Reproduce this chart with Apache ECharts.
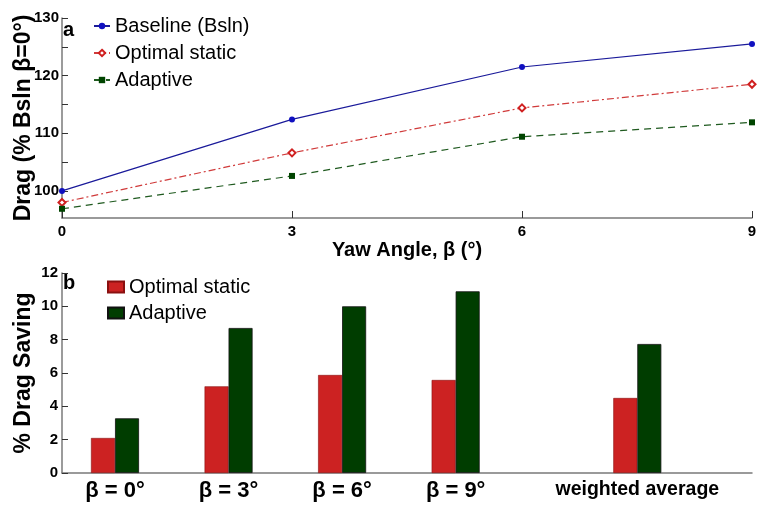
<!DOCTYPE html>
<html><head><meta charset="utf-8">
<script src="https://cdn.jsdelivr.net/npm/echarts@6/dist/echarts.min.js"></script>
<style>html,body{margin:0;padding:0;background:#fff}#c{width:770px;height:505px}</style>
</head><body><div id="c"></div>
<script>
// Panel a: drag vs yaw angle
const yawAngles = [0, 3, 6, 9];
const baseline = [100.0, 112.4, 121.5, 125.5];
const optimalStatic = [98.0, 106.6, 114.4, 118.5];
const adaptive = [96.9, 102.6, 109.4, 111.9];
const yTicksA = [100, 105, 110, 115, 120, 125, 130];
const yLabelsA = [100, 110, 120, 130];
// Panel b: drag saving
const categoriesB = ['β = 0°', 'β = 3°', 'β = 6°', 'β = 9°', 'weighted average'];
const positionsB = [1, 2, 3, 4, 5.6];
const savingStatic = [2.1, 5.2, 5.88, 5.58, 4.5];
const savingAdaptive = [3.28, 8.7, 10.0, 10.9, 7.74];

const FF = '"Liberation Sans", Arial, sans-serif';
const axisCol = '#7a7a7a';
const tickLbl = {color: '#000', fontFamily: FF, fontWeight: 'bold', fontSize: 15};
const nameStyleX = {color: '#000', fontFamily: FF, fontWeight: 'bold', fontSize: 20};
const nameStyleY = {color: '#000', fontFamily: FF, fontWeight: 'bold', fontSize: 23};

const chart = echarts.init(document.getElementById('c'), null, {renderer: 'canvas'});
chart.setOption({
  animation: false,
  backgroundColor: '#fff',
  grid: [
    {left: 62, right: 18, top: 18, height: 200},
    {left: 62, right: 18, top: 273, height: 200}
  ],
  legend: [
    {orient: 'vertical', left: 93, top: 16, padding: 0, itemWidth: 16, itemHeight: 8, itemGap: 7,
     textStyle: {fontFamily: FF, fontSize: 20, color: '#000', lineHeight: 20},
     data: ['Baseline (Bsln)', 'Optimal static', 'Adaptive']},
    {orient: 'vertical', left: 107, top: 277, padding: 0, itemWidth: 16, itemHeight: 11, itemGap: 6,
     textStyle: {fontFamily: FF, fontSize: 20, color: '#000', lineHeight: 20},
     data: [{name: 'Optimal static ', icon: 'rect'}, {name: 'Adaptive ', icon: 'rect'}]}
  ],
  xAxis: [
    {gridIndex: 0, type: 'value', min: 0, max: 9, interval: 3,
     name: 'Yaw Angle, β (°)', nameLocation: 'middle', nameGap: 22, nameMoveOverlap: false, nameTextStyle: nameStyleX,
     axisLine: {lineStyle: {color: axisCol, width: 1.5}},
     axisTick: {inside: true, length: 7, lineStyle: {color: '#333'}},
     axisLabel: Object.assign({margin: 6}, tickLbl), splitLine: {show: false}},
    {gridIndex: 1, type: 'value', min: 0.533, max: 6.61,
     axisLine: {lineStyle: {color: axisCol, width: 1.5}},
     axisTick: {show: false},
     axisLabel: {customValues: positionsB, margin: 7, color: '#000', fontFamily: FF, fontWeight: 'bold',
       formatter: v => {
         const i = positionsB.findIndex(p => Math.abs(p - v) < 1e-6);
         if (i < 0) return '';
         return (i < 4 ? '{b|' : '{w|') + categoriesB[i] + '}';
       },
       rich: {
         b: {fontFamily: FF, fontWeight: 'bold', fontSize: 22, color: '#000'},
         w: {fontFamily: FF, fontWeight: 'bold', fontSize: 19.5, color: '#000'}
       }},
     splitLine: {show: false}}
  ],
  yAxis: [
    {gridIndex: 0, type: 'value', min: 95.3, max: 130,
     name: 'Drag (% Bsln β=0°)', nameLocation: 'middle', nameGap: 27, nameMoveOverlap: false, nameTextStyle: nameStyleY,
     axisLine: {show: true, lineStyle: {color: axisCol, width: 1.5}},
     axisTick: {show: true, inside: true, length: 6, customValues: yTicksA, lineStyle: {color: '#333'}},
     axisLabel: Object.assign({customValues: yLabelsA, margin: 3}, tickLbl), splitLine: {show: false}},
    {gridIndex: 1, type: 'value', min: 0, max: 12, interval: 2,
     name: '% Drag Saving', nameLocation: 'middle', nameGap: 27, nameMoveOverlap: false, nameTextStyle: nameStyleY,
     axisLine: {show: true, lineStyle: {color: axisCol, width: 1.5}},
     axisTick: {show: true, inside: true, length: 6, lineStyle: {color: '#333'}},
     axisLabel: Object.assign({margin: 4}, tickLbl), splitLine: {show: false}}
  ],
  series: [
    {name: 'Baseline (Bsln)', type: 'line', xAxisIndex: 0, yAxisIndex: 0,
     data: yawAngles.map((x, i) => [x, baseline[i]]),
     symbol: 'circle', symbolSize: 6,
     lineStyle: {color: '#1a1a9a', width: 1.2}, itemStyle: {color: '#1010c0'}},
    {name: 'Optimal static', type: 'line', xAxisIndex: 0, yAxisIndex: 0,
     data: yawAngles.map((x, i) => [x, optimalStatic[i]]),
     symbol: 'emptyDiamond', symbolSize: 7,
     lineStyle: {color: '#d03a3a', width: 1.2, type: [7, 3, 2, 3]},
     itemStyle: {color: '#d02020', borderColor: '#d02020', borderWidth: 1.2}},
    {name: 'Adaptive', type: 'line', xAxisIndex: 0, yAxisIndex: 0,
     data: yawAngles.map((x, i) => [x, adaptive[i]]),
     symbol: 'rect', symbolSize: 6,
     lineStyle: {color: '#1f5a1f', width: 1.2, type: [7, 5]}, itemStyle: {color: '#004400'}},
    {name: 'Optimal static ', type: 'bar', xAxisIndex: 1, yAxisIndex: 1,
     data: positionsB.map((x, i) => [x, savingStatic[i]]),
     barWidth: 24, barGap: '0%',
     itemStyle: {color: '#cc2222', borderColor: '#8a1010', borderWidth: 0.6}},
    {name: 'Adaptive ', type: 'bar', xAxisIndex: 1, yAxisIndex: 1,
     data: positionsB.map((x, i) => [x, savingAdaptive[i]]),
     barWidth: 24, barGap: '0%',
     itemStyle: {color: '#003d00', borderColor: '#111', borderWidth: 0.8}}
  ],
  graphic: [
    {type: 'text', left: 63, top: 20, style: {text: 'a', font: 'bold 20px ' + FF, fill: '#000'}},
    {type: 'text', left: 63, top: 273, style: {text: 'b', font: 'bold 20px ' + FF, fill: '#000'}}
  ]
});
</script></body></html>
